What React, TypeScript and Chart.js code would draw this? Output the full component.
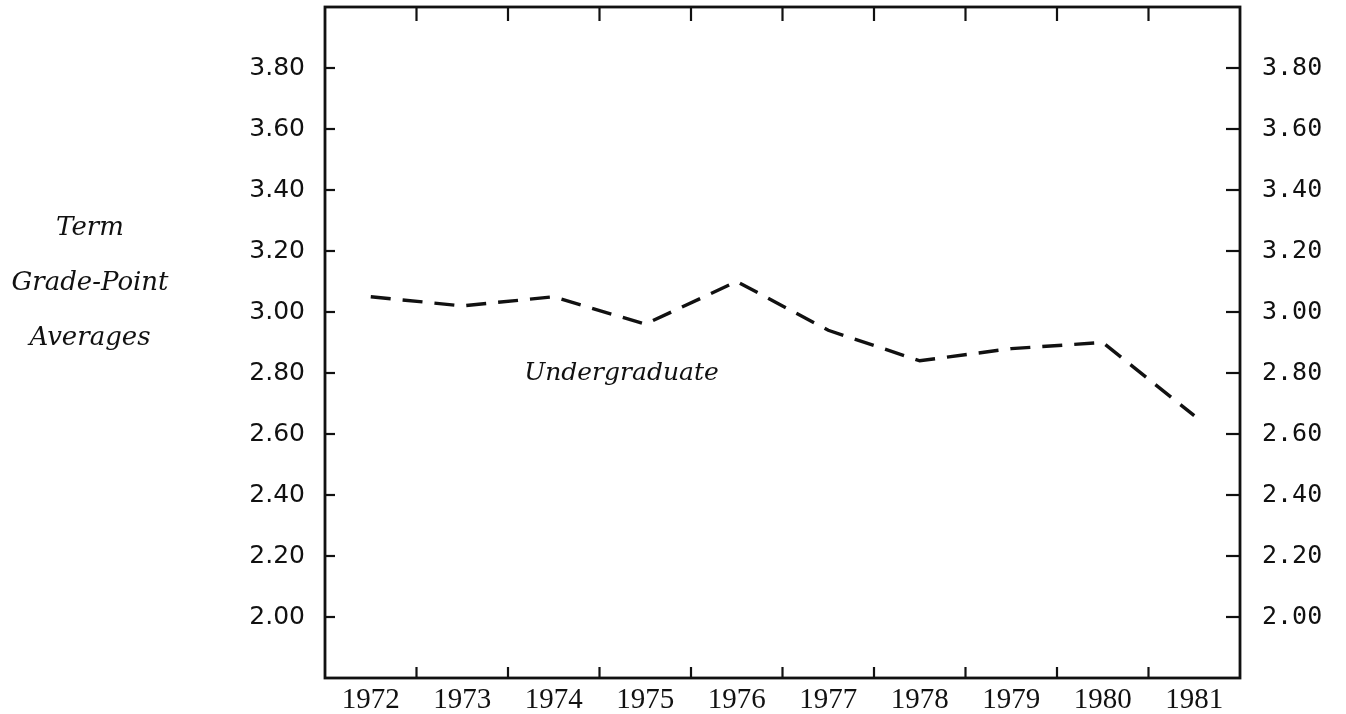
import React, { useEffect, useRef } from "react";
import { Chart, registerables } from "chart.js";

Chart.register(...registerables);

// ---- data ----
const years = ["1972", "1973", "1974", "1975", "1976", "1977", "1978", "1979", "1980", "1981"];
const undergraduateGPA = [3.05, 3.02, 3.05, 2.96, 3.1, 2.94, 2.84, 2.88, 2.9, 2.66];
const yTickValues = [2.0, 2.2, 2.4, 2.6, 2.8, 3.0, 3.2, 3.4, 3.6, 3.8];
const yTickLabels = ["2.00", "2.20", "2.40", "2.60", "2.80", "3.00", "3.20", "3.40", "3.60", "3.80"];
const yMin = 1.8;
const yMax = 4.0;
const yTitleLines = ["Term", "Grade-Point", "Averages"];
const seriesLabel = "Undergraduate";
const seriesLabelAt = { x: 2.74, y: 2.8 };

const INK = "#111111";

const framePlugin = {
  id: "frameTicks",
  afterDatasetsDraw(chart: any) {
    const { ctx, chartArea: a, scales } = chart;
    const xs = scales.x;
    const ys = scales.y;
    ctx.save();
    ctx.strokeStyle = INK;
    ctx.lineCap = "butt";
    const seg = (x1: number, y1: number, x2: number, y2: number) => {
      ctx.beginPath();
      ctx.moveTo(x1, y1);
      ctx.lineTo(x2, y2);
      ctx.stroke();
    };
    ctx.lineWidth = 2.2;
    for (let i = 1; i < years.length; i++) {
      const px = (xs.getPixelForValue(i - 1) + xs.getPixelForValue(i)) / 2;
      seg(px, a.bottom, px, a.bottom - 11);
      seg(px, a.top, px, a.top + 14);
    }
    for (const v of yTickValues) {
      const py = ys.getPixelForValue(v);
      seg(a.left, py, a.left + 10, py);
      seg(a.right, py, a.right - 14, py);
    }
    ctx.lineWidth = 2.8;
    ctx.strokeRect(a.left, a.top, a.right - a.left, a.bottom - a.top);

    // series label
    ctx.fillStyle = INK;
    ctx.font = "italic 25px 'DejaVu Serif'";
    ctx.textAlign = "center";
    ctx.textBaseline = "middle";
    ctx.fillText(seriesLabel, xs.getPixelForValue(seriesLabelAt.x), ys.getPixelForValue(seriesLabelAt.y));

    // y-axis title (horizontal, three lines)
    ctx.font = "italic 26px 'DejaVu Serif'";
    const cx = a.left - 235;
    const mid = a.top + 276;
    yTitleLines.forEach((t, i) => {
      ctx.fillText(t, cx, mid + (i - 1) * 55);
    });
    ctx.restore();
  },
};

export default function App() {
  const ref = useRef<HTMLCanvasElement | null>(null);
  useEffect(() => {
    if (!ref.current) return;
    const chart = new Chart(ref.current, {
      type: "line",
      data: {
        labels: years,
        datasets: [
          {
            label: seriesLabel,
            data: undergraduateGPA,
            borderColor: INK,
            borderWidth: 3.4,
            borderDash: [20, 12],
            pointRadius: 0,
            fill: false,
            tension: 0,
          },
        ],
      },
      options: {
        animation: false,
        responsive: true,
        maintainAspectRatio: false,
        layout: { padding: { top: 7, left: 0, right: 0, bottom: 0 } },
        plugins: { legend: { display: false }, tooltip: { enabled: false }, title: { display: false } },
        scales: {
          x: {
            type: "category",
            offset: true,
            grid: { display: false, drawTicks: false },
            border: { display: false },
            ticks: {
              color: INK,
              font: { family: "'Liberation Serif'", size: 29 },
              padding: 5,
              maxRotation: 0,
              autoSkip: false,
            },
            afterFit: (s: any) => {
              s.height = 36;
              s.paddingLeft = 0;
              s.paddingRight = 0;
            },
          },
          y: {
            type: "linear",
            position: "left",
            min: yMin,
            max: yMax,
            grid: { display: false, drawTicks: false },
            border: { display: false },
            afterBuildTicks: (s: any) => {
              s.ticks = yTickValues.map((v) => ({ value: v }));
            },
            ticks: {
              color: INK,
              font: { family: "'DejaVu Sans'", size: 25 },
              padding: 20,
              callback: (v: any) => yTickLabels[yTickValues.findIndex((t) => Math.abs(t - Number(v)) < 1e-6)] ?? "",
            },
            afterFit: (s: any) => {
              s.width = 325;
              s.paddingTop = 0;
              s.paddingBottom = 0;
            },
          },
          y2: {
            type: "linear",
            position: "right",
            min: yMin,
            max: yMax,
            grid: { display: false, drawTicks: false },
            border: { display: false },
            afterBuildTicks: (s: any) => {
              s.ticks = yTickValues.map((v) => ({ value: v }));
            },
            ticks: {
              color: INK,
              font: { family: "'DejaVu Sans Mono'", size: 25 },
              padding: 22,
              callback: (v: any) => yTickLabels[yTickValues.findIndex((t) => Math.abs(t - Number(v)) < 1e-6)] ?? "",
            },
            afterFit: (s: any) => {
              s.width = 106;
              s.paddingTop = 0;
              s.paddingBottom = 0;
            },
          },
        },
      },
      plugins: [framePlugin],
    });
    return () => chart.destroy();
  }, []);

  return (
    <div style={{ position: "absolute", left: 0, top: 0, width: 1346, height: 714, background: "#fff" }}>
      <canvas ref={ref} />
    </div>
  );
}
